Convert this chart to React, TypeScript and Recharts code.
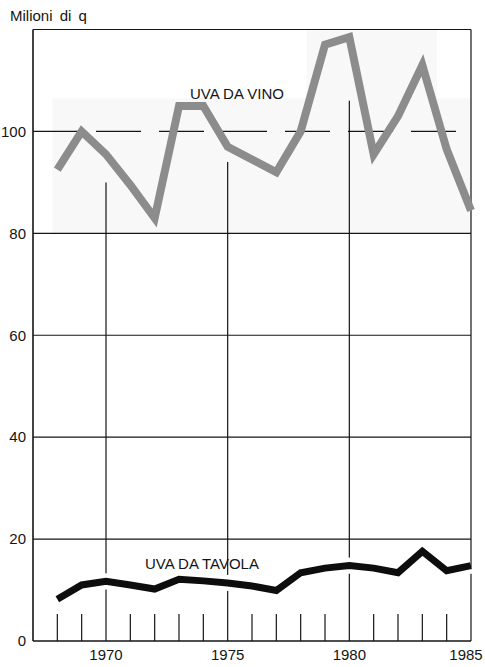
import { LineChart, Line, XAxis, YAxis, ReferenceLine, ReferenceArea } from "recharts";

const years = [1968, 1969, 1970, 1971, 1972, 1973, 1974, 1975, 1976, 1977, 1978, 1979, 1980, 1981, 1982, 1983, 1984, 1985];
const uvaVino = [92.5, 100, 95.5, 89.5, 83, 105, 105, 97, 94.5, 92, 100, 117, 118.5, 95.5, 103, 113, 96.5, 84.5];
const uvaTavola = [8.2, 11, 11.7, 11, 10.2, 12.1, 11.8, 11.4, 10.8, 9.9, 13.4, 14.3, 14.8, 14.3, 13.4, 17.6, 13.8, 14.8];

const yTicks = [0, 20, 40, 60, 80, 100];
const xTicks = [1970, 1975, 1980, 1985];
const solidGrid = [20, 40, 60, 80];
// vertical guide lines stop below the grey line
const yearGuides = [
  { year: 1970, top: 90 },
  { year: 1975, top: 94 },
  { year: 1980, top: 106 },
];
const minorYears = [1968, 1969, 1971, 1972, 1973, 1974, 1976, 1977, 1978, 1979, 1981, 1982, 1983, 1984];

const data = years.map((y, i) => ({ year: y, vino: uvaVino[i], tavola: uvaTavola[i] }));

const FONT = "'Liberation Sans', Arial, sans-serif";
const INK = "#151515";

const labelStyle = {
  position: "absolute" as const,
  fontFamily: FONT,
  fontSize: 15,
  lineHeight: "15px",
  color: INK,
  whiteSpace: "nowrap" as const,
};

function YearTick(props: any) {
  const { x, y, payload } = props;
  const last = payload.value === 1985;
  return (
    <text
      x={last ? x - 5 : x}
      y={y + 17}
      textAnchor="middle"
      fill={INK}
      fontSize={15}
      fontFamily={FONT}
    >
      {payload.value}
    </text>
  );
}

export default function App() {
  return (
    <div style={{ position: "absolute", left: 0, top: 0, width: 485, height: 667, background: "#fff" }}>
      <LineChart width={485} height={667} data={data} margin={{ top: 29.5, right: 14, bottom: 0, left: 3 }}>
        <ReferenceArea x1={1967.8} x2={1985} y1={80} y2={106.5} fill="#f8f8f8" fillOpacity={1} stroke="none" />
        <ReferenceArea x1={1978.25} x2={1983.6} y1={106.5} y2={120} fill="#f8f8f8" fillOpacity={1} stroke="none" />
        <XAxis
          dataKey="year"
          type="number"
          domain={[1967, 1985]}
          ticks={xTicks}
          tickLine={false}
          tickSize={0}
          axisLine={{ stroke: INK, strokeWidth: 1.6 }}
          height={26}
          interval={0}
          tick={<YearTick />}
        />
        <YAxis
          type="number"
          domain={[0, 120]}
          ticks={yTicks}
          tickLine={false}
          tickSize={0}
          tickMargin={7}
          axisLine={{ stroke: INK, strokeWidth: 1.6 }}
          width={30}
          tick={{ fill: INK, fontSize: 15, fontFamily: FONT }}
        />
        {solidGrid.map((v) => (
          <ReferenceLine key={"g" + v} y={v} stroke={INK} strokeWidth={1.2} />
        ))}
        <ReferenceLine y={100} stroke={INK} strokeWidth={1.2} strokeDasharray="45 18" />
        <ReferenceLine y={120} stroke={INK} strokeWidth={1.2} />
        <ReferenceLine x={1985} stroke={INK} strokeWidth={1.2} />
        {yearGuides.map((g) => (
          <ReferenceLine
            key={"v" + g.year}
            segment={[{ x: g.year, y: 0 }, { x: g.year, y: g.top }]}
            stroke={INK}
            strokeWidth={1.2}
          />
        ))}
        {minorYears.map((yr) => (
          <ReferenceLine
            key={"m" + yr}
            segment={[{ x: yr, y: 0 }, { x: yr, y: 5.3 }]}
            stroke={INK}
            strokeWidth={1.2}
          />
        ))}
        <Line dataKey="tavola" stroke="#fff" strokeWidth={16} dot={false} isAnimationActive={false} legendType="none" />
        <Line dataKey="tavola" stroke="#0d0d0d" strokeWidth={7} dot={false} isAnimationActive={false} />
        <Line dataKey="vino" stroke="#8c8c8c" strokeWidth={8} dot={false} isAnimationActive={false} />
      </LineChart>
      <div style={{ ...labelStyle, left: 10, top: 7.5, wordSpacing: 3 }}>Milioni di q</div>
      <div style={{ ...labelStyle, left: 190, top: 85.5 }}>UVA DA VINO</div>
      <div style={{ ...labelStyle, left: 145, top: 555.5 }}>UVA DA TAVOLA</div>
    </div>
  );
}
